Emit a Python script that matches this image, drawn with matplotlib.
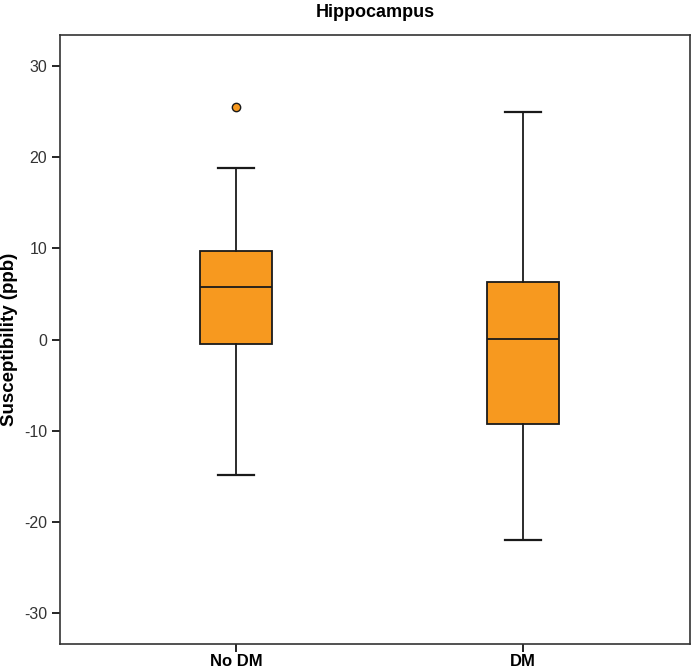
import matplotlib
matplotlib.use("Agg")
import matplotlib.pyplot as plt

groups = ["No DM", "DM"]
q1 = [-0.5, -9.2]
med = [5.8, 0.1]
q3 = [9.7, 6.3]
whislo = [-14.8, -21.9]
whishi = [18.8, 25.0]
fliers = [[25.5], []]

stats = []
for i, g in enumerate(groups):
    stats.append(dict(label=g, q1=q1[i], med=med[i], q3=q3[i],
                      whislo=whislo[i], whishi=whishi[i], fliers=fliers[i]))

plt.rcParams['font.family'] = ['Liberation Sans', 'DejaVu Sans']
plt.rcParams['axes.unicode_minus'] = False

fig = plt.figure(figsize=(7, 6.72), dpi=100)
ax = fig.add_axes([0.086, 0.041, 0.9, 0.907])

orange = '#F7991F'
ax.bxp(stats, positions=[1, 2], widths=0.25, patch_artist=True,
       boxprops=dict(facecolor=orange, edgecolor='#1a1a1a', linewidth=1.3),
       medianprops=dict(color='#1a1a1a', linewidth=1.3),
       whiskerprops=dict(color='#1a1a1a', linewidth=1.3),
       capprops=dict(color='#1a1a1a', linewidth=1.6),
       capwidths=0.125,
       flierprops=dict(marker='o', markerfacecolor=orange, markeredgecolor='#1a1a1a',
                       markersize=6, markeredgewidth=1))

ax.set_xlim(0.387, 2.582)
ax.set_ylim(-33.4, 33.4)
ax.set_yticks([-30, -20, -10, 0, 10, 20, 30])
ax.set_xticks([1, 2])
ax.set_xticklabels(groups, fontsize=12, fontweight='bold')
ax.tick_params(axis='y', labelsize=11.5, labelcolor='#333333', length=6, width=1.2)
ax.tick_params(axis='x', length=6, width=1.2, pad=1)
for s in ax.spines.values():
    s.set_linewidth(1.2)
    s.set_color('#333333')
ax.set_ylabel('Susceptibility (ppb)', fontsize=13.5, fontweight='bold', labelpad=4)
ax.set_title('Hippocampus', fontsize=13, fontweight='bold', pad=13)

fig.savefig('out.png', dpi=100)
